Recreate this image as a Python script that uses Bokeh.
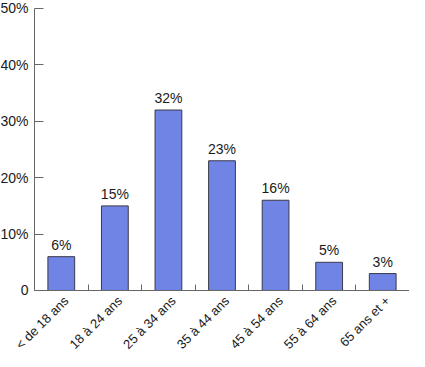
import numpy as np
from bokeh.plotting import figure
from bokeh.models import ColumnDataSource, FixedTicker, Range1d, LinearAxis
from bokeh.embed import file_html
from bokeh.resources import INLINE
from bokeh.core.properties import value

categories = ["< de 18 ans", "18 à 24 ans", "25 à 34 ans", "35 à 44 ans",
              "45 à 54 ans", "55 à 64 ans", "65 ans et +"]
shares = [6, 15, 32, 23, 16, 5, 3]
y_ticks = [0, 10, 20, 30, 40, 50]
y_tick_labels = ["0", "10%", "20%", "30%", "40%", "50%"]

n = len(categories)
centers = [i + 0.5 for i in range(n)]
boundaries = [i for i in range(1, n + 1)]

src = ColumnDataSource(dict(x=centers, top=shares, base=[0] * n,
                            lab=[f"{v}%" for v in shares], cat=categories))
ysrc = ColumnDataSource(dict(x=[0] * len(y_ticks), y=y_ticks, t=y_tick_labels))

FONT = "Liberation Sans"
AX = "#666666"
TXT = "#1a1a1a"

p = figure(width=409, height=351, output_backend="svg", toolbar_location=None,
           x_range=Range1d(-0.6347, n), y_range=Range1d(-10.816, 51.418),
           x_axis_location=None, y_axis_location=None,
           min_border_left=0, min_border_right=0, min_border_top=0,
           min_border_bottom=0)
p.outline_line_color = None
p.grid.visible = False
p.background_fill_color = "white"

p.vbar(x="x", top="top", width=0.5, source=src, fill_color="#6F84E5",
       line_color="#3a3a4a", line_width=1)
p.text(x="x", y="top", text="lab", source=src, text_align="center",
       text_baseline="bottom", y_offset=-4, text_font=value(FONT),
       text_font_size="14px", text_color=TXT)

# category labels, rotated
p.text(x="x", y="base", text="cat", source=src, angle=np.pi / 4,
       text_align="right", text_baseline="middle", x_offset=5, y_offset=8,
       text_font=value(FONT), text_font_size="13px", text_color=TXT)

# y tick labels
p.text(x="x", y="y", text="t", source=ysrc, text_align="right",
       text_baseline="middle", x_offset=-6, text_font=value(FONT),
       text_font_size="14px", text_color=TXT)

# y axis at x = 0
ya = LinearAxis(fixed_location=0, bounds=(0, 50),
                ticker=FixedTicker(ticks=[], minor_ticks=y_ticks),
                major_label_standoff=0, major_tick_out=0, major_tick_in=0,
                minor_tick_in=9, minor_tick_out=0,
                minor_tick_line_color=AX, axis_line_color=AX)
p.add_layout(ya, "left")

# x axis at y = 0 (ticks between categories)
xa = LinearAxis(fixed_location=0, bounds=(0, n),
                ticker=FixedTicker(ticks=[], minor_ticks=boundaries),
                major_label_standoff=0, major_tick_out=0, major_tick_in=0,
                minor_tick_in=6, minor_tick_out=0,
                minor_tick_line_color=AX, axis_line_color=AX)
p.add_layout(xa, "below")

open("out.html", "w").write(file_html(p, INLINE))
